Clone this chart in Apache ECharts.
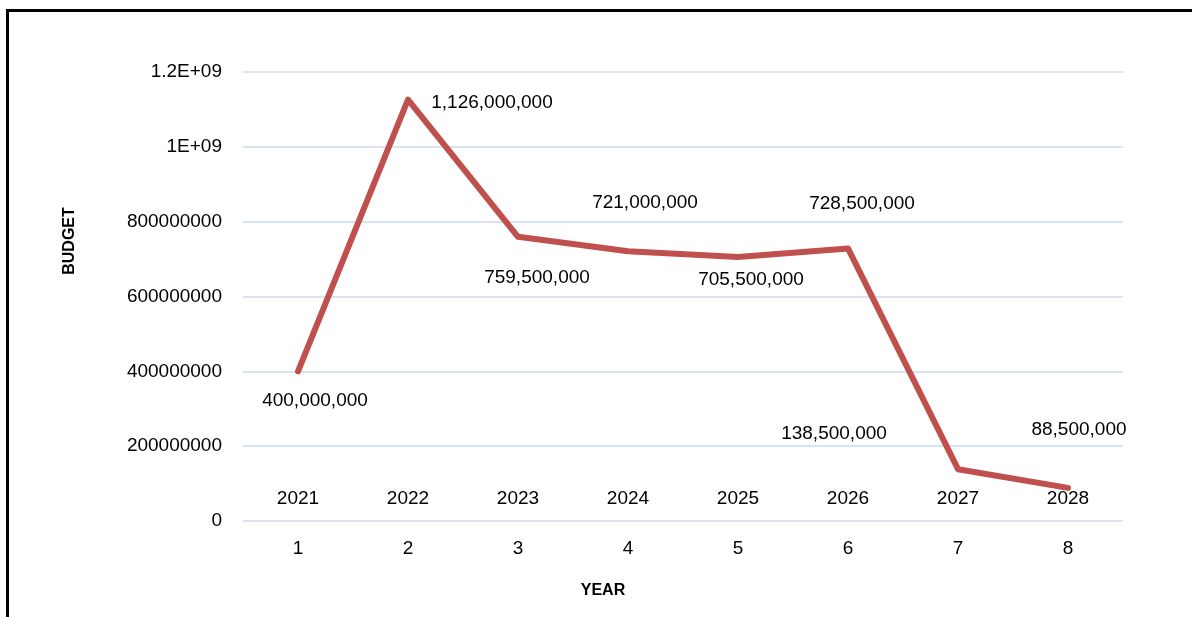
<!DOCTYPE html>
<html>
<head>
<meta charset="utf-8">
<script src="https://cdn.jsdelivr.net/npm/echarts@6/dist/echarts.min.js"></script>
<style>
  html, body { margin: 0; padding: 0; background: #fff; }
  #chart { width: 1192px; height: 617px; }
</style>
</head>
<body>
<div id="chart"></div>
<script>
// categories on the x axis
var categories = ["1", "2", "3", "4", "5", "6", "7", "8"];
// budget per year
var budget = [400000000, 1126000000, 759500000, 721000000, 705500000, 728500000, 138500000, 88500000];
// year series (plotted near 0, only its labels are visible)
var years = [2021, 2022, 2023, 2024, 2025, 2026, 2027, 2028];
// y tick labels as shown
var yTickLabels = ["0", "200000000", "400000000", "600000000", "800000000", "1E+09", "1.2E+09"];

// label offsets (dx, dy) from each point, manually placed like the original
var budgetLabelOffsets = [[17, 29], [84, 3], [19, 41], [17, -48], [13, 23], [14, -45], [-124, -35], [11, -58]];

var chart = echarts.init(document.getElementById("chart"));

var fontFamily = "'Liberation Sans', Arial, sans-serif";

chart.setOption({
  animation: false,
  backgroundColor: "#fff",
  grid: {
    left: 243,
    right: 69,
    top: 72,
    bottom: 96
  },
  //边框和坐标轴标题
  graphic: [
    {
      type: "rect",
      shape: { x: 7.5, y: 10.5, width: 1400, height: 800 },
      style: { fill: null, stroke: "#000", lineWidth: 3 },
      silent: true
    },
    {
      type: "text",
      x: 603,
      y: 591,
      style: {
        text: "YEAR",
        font: "bold 16px " + fontFamily,
        fill: "#000",
        align: "center",
        verticalAlign: "middle"
      }
    },
    {
      type: "text",
      x: 70,
      y: 241,
      rotation: Math.PI / 2,
      style: {
        text: "BUDGET",
        font: "bold 16px " + fontFamily,
        fill: "#000",
        align: "center",
        verticalAlign: "middle"
      }
    }
  ],
  xAxis: {
    type: "category",
    data: categories,
    boundaryGap: true,
    axisLine: { show: false },
    axisTick: { show: false },
    axisLabel: {
      margin: 18,
      color: "#000",
      fontSize: 19,
      fontFamily: fontFamily
    }
  },
  yAxis: {
    type: "value",
    min: 0,
    max: 1200000000,
    interval: 200000000,
    axisLine: { show: false },
    axisTick: { show: false },
    splitLine: {
      lineStyle: { color: "#dae3f3", width: 2 }
    },
    axisLabel: {
      margin: 21,
      color: "#000",
      fontSize: 19,
      fontFamily: fontFamily,
      padding: [4, 0, 0, 0],
      formatter: function (v) {
        return yTickLabels[Math.round(v / 200000000)];
      }
    }
  },
  series: [
    {
      name: "YEAR",
      type: "line",
      data: years,
      symbol: "circle",
      symbolSize: 0,
      lineStyle: { opacity: 0 },
      label: {
        show: true,
        position: "inside",
        offset: [0, -22],
        color: "#000",
        fontSize: 19,
        fontFamily: fontFamily
      },
      z: 1
    },
    {
      name: "BUDGET",
      type: "line",
      symbol: "circle",
      symbolSize: 0,
      data: budget.map(function (v, i) {
        return {
          value: v,
          label: { offset: budgetLabelOffsets[i] }
        };
      }),
      lineStyle: { color: "#c0504d", width: 6, cap: "round", join: "round" },
      itemStyle: { color: "#c0504d" },
      label: {
        show: true,
        position: "inside",
        color: "#000",
        fontSize: 19,
        fontFamily: fontFamily,
        formatter: function (p) {
          return p.value.toLocaleString("en-US");
        }
      },
      z: 2
    }
  ]
});
</script>
</body>
</html>
